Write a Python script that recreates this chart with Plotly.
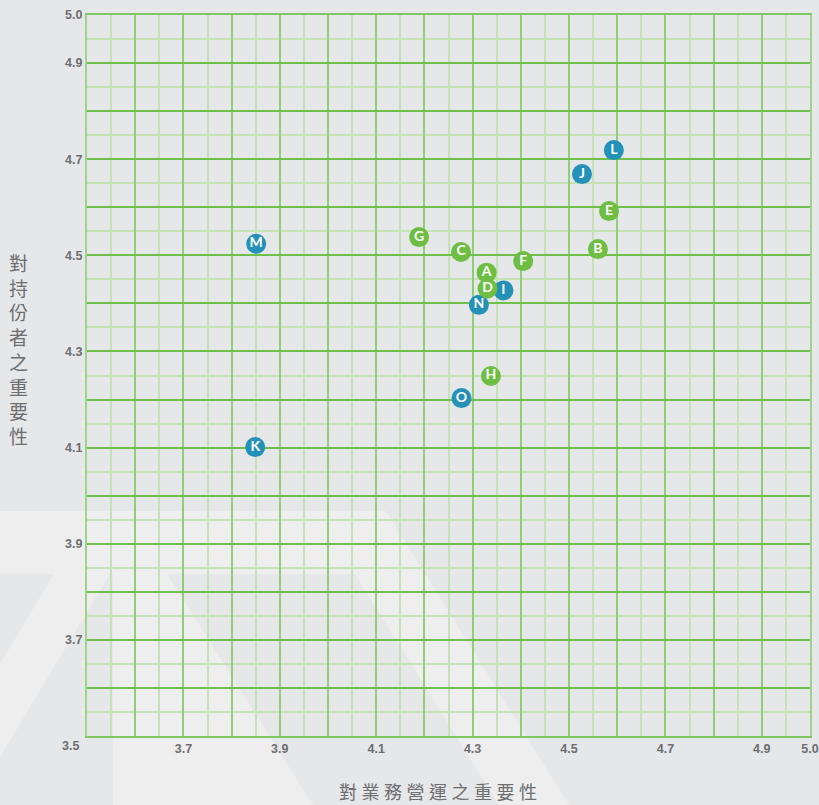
import plotly.graph_objects as go

# ---------------- data ----------------
blue_labels = ["L", "J", "M", "N", "I", "O", "K"]
blue_x = [4.593, 4.527, 3.851, 4.313, 4.364, 4.277, 3.849]
blue_y = [4.719, 4.669, 4.524, 4.397, 4.427, 4.203, 4.101]

green_labels = ["E", "B", "G", "C", "F", "A", "D", "H"]
green_x = [4.583, 4.560, 4.189, 4.276, 4.405, 4.329, 4.331, 4.338]
green_y = [4.592, 4.513, 4.538, 4.507, 4.488, 4.464, 4.431, 4.249]

tick_vals = [3.5, 3.6, 3.7, 3.8, 3.9, 4.0, 4.1, 4.2, 4.3, 4.4, 4.5, 4.6, 4.7, 4.8, 4.9, 5.0]
x_tick_text = ["", "", "3.7", "", "3.9", "", "4.1", "", "4.3", "", "4.5", "", "4.7", "", "4.9", "5.0"]
y_tick_text = ["", "", "3.7", "", "3.9", "", "4.1", "", "4.3", "", "4.5", "", "4.7", "", "4.9", "5.0"]
origin_label = "3.5"
minor_vals = [3.55, 3.65, 3.75, 3.85, 3.95, 4.05, 4.15, 4.25, 4.35, 4.45, 4.55, 4.65, 4.75, 4.85, 4.95]

x_title = "對業務營運之重要性"
y_title = "對持份者之重要性"

# ---------------- style ----------------
W, H = 819, 805
ML, MR, MT, MB = 87, 9, 15, 69
PW, PH = W - ML - MR, H - MT - MB

BG = "#e6e7e9"
LIGHT = "#eeeeee"
GREEN = "#6fbe44"
BLUE = "#2391b8"
TXT = "#6d6e70"
TICKFONT = dict(family="Liberation Sans, Arial, sans-serif", size=12.5, color=TXT, weight="bold")


def paper(px, py):
    return (px - ML) / PW, (H - MB - py) / PH


def poly(points, color):
    coords = [paper(px, py) for px, py in points]
    d = "M " + " L ".join(f"{x:.5f},{y:.5f}" for x, y in coords) + " Z"
    return dict(type="path", path=d, xref="paper", yref="paper",
                fillcolor=color, line=dict(width=0), layer="below")


shapes = [
    poly([(0, 511), (386, 511), (569, 805), (0, 805)], LIGHT),
    poly([(0, 574), (54, 574), (0, 664)], BG),
    poly([(110, 574), (113, 574), (113, 805), (0, 805), (0, 757)], BG),
    poly([(167, 574), (355, 574), (499, 805), (313, 805)], BG),
]

fig = go.Figure()
for xs, ys, labs, col in [(blue_x, blue_y, blue_labels, BLUE),
                          (green_x, green_y, green_labels, GREEN)]:
    fig.add_trace(go.Scatter(
        x=xs, y=ys, text=labs, mode="markers+text",
        marker=dict(size=20, color=col, line=dict(width=0)),
        textposition="middle center",
        textfont=dict(family="Lato, Arial, sans-serif", size=14, color="white", weight="bold"),
        hoverinfo="skip", showlegend=False, cliponaxis=False,
    ))

axis_common = dict(
    range=[3.5, 5.0], tickmode="array", tickvals=tick_vals,
    showgrid=True, zeroline=False, ticks="", automargin=False,
    showline=True, mirror=True, linewidth=2,
    tickfont=TICKFONT, fixedrange=True,
)

fig.update_layout(
    width=W, height=H, autosize=False,
    margin=dict(l=ML, r=MR, t=MT, b=MB, pad=0, autoexpand=False),
    paper_bgcolor=BG, plot_bgcolor="rgba(0,0,0,0)",
    shapes=shapes,
    xaxis=dict(**axis_common, ticktext=x_tick_text, gridcolor="#8fcd76", gridwidth=2,
               linecolor="#7fc763",
               minor=dict(tickmode="array", tickvals=minor_vals, showgrid=True,
                          gridcolor="#c4e2b4", gridwidth=2)),
    yaxis=dict(**axis_common, ticktext=y_tick_text, gridcolor="#6fc04b", gridwidth=1.5,
               linecolor="#9fd38a",
               minor=dict(tickmode="array", tickvals=minor_vals, showgrid=True,
                          gridcolor="#c4e2b4", gridwidth=2)),
    annotations=[
        dict(text=origin_label, xref="paper", yref="paper",
             x=(81 - ML) / PW, y=(H - MB - 746) / PH, xanchor="right", yanchor="middle",
             showarrow=False, font=TICKFONT),
        dict(text="\u2005".join(x_title), xref="paper", yref="paper",
             x=(438 - ML) / PW, y=(H - MB - 791) / PH, xanchor="center", yanchor="middle",
             showarrow=False,
             font=dict(family="Noto Sans CJK TC, sans-serif", size=18, color=TXT)),
        dict(text="<br>".join(y_title), xref="paper", yref="paper",
             x=(18 - ML) / PW, y=(H - MB - 349) / PH, xanchor="center", yanchor="middle",
             showarrow=False,
             font=dict(family="Noto Sans CJK TC, sans-serif", size=19, color=TXT)),
    ],
)

fig.write_html(
    "out.html",
    config={"displayModeBar": False},
    post_script="document.body.style.margin='0px';document.body.style.overflow='hidden';",
)
